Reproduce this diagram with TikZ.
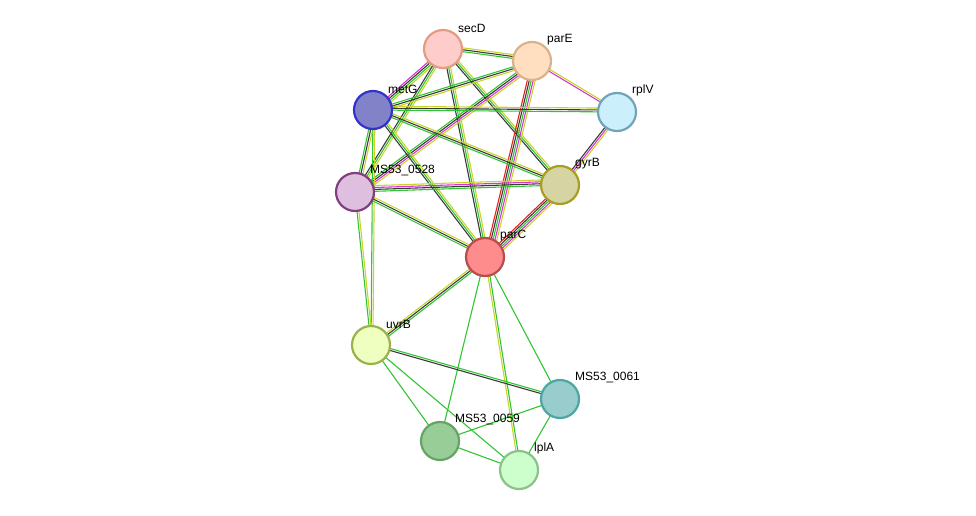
\documentclass[tikz,border=0pt]{standalone}
\usepackage{fontspec}
\setmainfont{Liberation Sans}
\usetikzlibrary{calc,backgrounds}
\definecolor{cGreen}{HTML}{33C433}
\definecolor{cYellow}{HTML}{C8D42A}
\definecolor{cBlack}{HTML}{3A3A3A}
\definecolor{cMag}{HTML}{D633D6}
\definecolor{cRed}{HTML}{E82020}
\tikzset{
  prot/.style 2 args={circle,minimum size=38pt,inner sep=0pt,line width=2.2pt,fill=#1,draw=#2},
  lab/.style={anchor=south west,inner sep=1pt,font=\fontsize{12}{12}\selectfont}
}
% parallel coloured lines between two nodes
\newcommand{\edge}[3]{%
  \foreach \c [count=\i] in {#3}{%
    \pgfmathsetmacro{\off}{1.9*(\i-1)}%
    \draw[\c,line width=1.1pt] ($(#1)!\off pt!90:(#2)$) -- ($(#2)!\off pt!-90:(#1)$);
  }}
\begin{document}
\begin{tikzpicture}[x=1pt,y=-1pt]
\useasboundingbox (0,0) rectangle (976,516);
\node[prot={red!5!pink!70}{brown!70!red!60}] (secD) at (443,49) {};
\node[prot={orange!25}{brown!60}] (parE) at (532,61) {};
\node[prot={cyan!20}{cyan!40!gray}] (rplV) at (617,112) {};
\node[prot={blue!40!gray!70}{blue!60!gray}] (metG) at (373,110) {};
\node[prot={violet!25}{violet!50!gray}] (ms528) at (355,192) {};
\node[prot={yellow!40!gray!60}{olive!80}] (gyrB) at (560,185) {};
\node[prot={red!45}{red!60!black!70}] (parC) at (485,257) {};
\node[prot={lime!25}{lime!40!gray}] (uvrB) at (371,345) {};
\node[prot={teal!40}{teal!70}] (ms61) at (560,399) {};
\node[prot={green!35!gray!60}{green!40!black!60}] (ms59) at (440,441) {};
\node[prot={green!20}{green!30!gray!70}] (lplA) at (519,470) {};
\foreach \n/\t in {secD/secD,parE/parE,rplV/rplV,metG/metG,ms528/MS53\_0528,gyrB/gyrB,parC/parC,uvrB/uvrB,ms61/MS53\_0061,ms59/MS53\_0059,lplA/lplA}
  \node[lab] at ($(\n)+(14,-15)$) {\t};
\begin{scope}[on background layer]
\edge{secD}{parE}{cGreen,cBlack,cYellow}
\edge{secD}{metG}{cMag,cBlack,cGreen,cYellow}
\edge{secD}{ms528}{cBlack,cGreen,cYellow}
\edge{secD}{parC}{cBlack,cGreen,cYellow}
\edge{secD}{gyrB}{cBlack,cGreen,cYellow}
\edge{parE}{metG}{cGreen,cBlack,cYellow}
\edge{parE}{ms528}{cGreen,cBlack,cMag,cYellow}
\edge{parE}{rplV}{cMag,cYellow}
\edge{parE}{parC}{cRed,cBlack,cGreen,cMag,cYellow}
\edge{metG}{rplV}{cGreen,cBlack,cYellow}
\edge{metG}{gyrB}{cGreen,cBlack,cYellow}
\edge{metG}{parC}{cBlack,cGreen,cYellow}
\edge{metG}{ms528}{cGreen,cBlack,cYellow}
\edge{metG}{uvrB}{cGreen,cYellow}
\edge{ms528}{uvrB}{cGreen,cYellow}
\edge{ms528}{gyrB}{cGreen,cBlack,cMag,cYellow}
\edge{ms528}{parC}{cGreen,cBlack,cYellow}
\edge{rplV}{gyrB}{cBlack,cMag,cYellow}
\edge{gyrB}{parC}{cRed,cBlack,cGreen,cMag,cYellow}
\edge{parC}{uvrB}{cYellow,cBlack,cGreen}
\edge{parC}{ms59}{cGreen}
\edge{parC}{lplA}{cYellow,cGreen}
\edge{parC}{ms61}{cGreen}
\edge{uvrB}{ms61}{cBlack,cGreen}
\edge{uvrB}{ms59}{cGreen}
\edge{uvrB}{lplA}{cGreen}
\edge{ms61}{ms59}{cGreen}
\edge{ms61}{lplA}{cGreen}
\edge{ms59}{lplA}{cGreen}
\end{scope}
\end{tikzpicture}
\end{document}
